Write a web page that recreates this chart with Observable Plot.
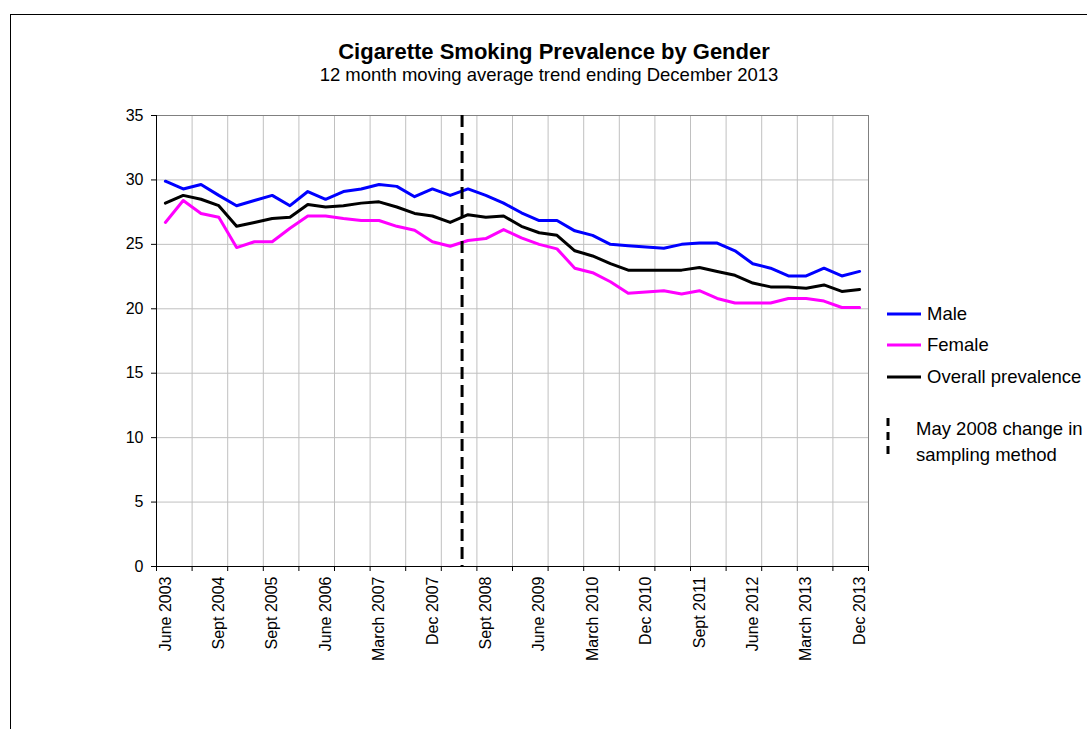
<!DOCTYPE html>
<html><head><meta charset="utf-8">
<script src="https://cdn.jsdelivr.net/npm/d3@7"></script>
<script src="https://cdn.jsdelivr.net/npm/@observablehq/plot@0.6"></script>
<style>
body{margin:0;width:1087px;height:729px;overflow:hidden;background:#fff;font-family:"Liberation Sans",Arial,sans-serif;position:relative;color:#000}
#border{position:absolute;left:10px;top:14px;width:1200px;height:900px;border-left:1px solid #000;border-top:1px solid #000}
#chart{position:absolute;left:0;top:0}
.title{position:absolute;left:0;width:1108px;text-align:center;white-space:nowrap}
#t1{top:39px;font-weight:bold;font-size:22px;line-height:26px}
#t2{top:64px;left:-5px;font-size:18.5px;line-height:22px}
.leg{position:absolute;white-space:nowrap;font-size:18.5px;line-height:20px}
.leg svg{position:absolute;left:0;top:0;overflow:visible}
</style></head>
<body>
<div id="border"></div>
<div id="chart"></div>
<div class="title" id="t1">Cigarette Smoking Prevalence by Gender</div>
<div class="title" id="t2">12 month moving average trend ending December 2013</div>
<div id="legend"></div>
<script>
const categories = [
  "June 2003","Dec 2003","March 2004","Sept 2004","Dec 2004","March 2005","Sept 2005",
  "Dec 2005","March 2006","June 2006","Sept 2006","Dec 2006","March 2007","June 2007",
  "Sept 2007","Dec 2007","March 2008","June 2008","Sept 2008","Dec 2008","March 2009",
  "June 2009","Sept 2009","Dec 2009","March 2010","June 2010","Sept 2010","Dec 2010",
  "March 2011","June 2011","Sept 2011","Dec 2011","March 2012","June 2012","Sept 2012",
  "Dec 2012","March 2013","June 2013","Sept 2013","Dec 2013"
];
const tickLabels = ["June 2003","Sept 2004","Sept 2005","June 2006","March 2007","Dec 2007",
  "Sept 2008","June 2009","March 2010","Dec 2010","Sept 2011","June 2012","March 2013","Dec 2013"];
const male = [29.9,29.3,29.65,28.8,28.0,28.4,28.8,28.0,29.1,28.5,29.1,29.3,29.65,29.5,28.7,29.3,28.8,29.3,28.8,28.2,
  27.45,26.85,26.85,26.05,25.7,25.0,24.9,24.8,24.7,25.0,25.1,25.1,24.5,23.5,23.15,22.55,22.55,23.15,22.55,22.9];
const female = [26.7,28.4,27.4,27.1,24.75,25.2,25.2,26.25,27.2,27.2,27.0,26.85,26.85,26.4,26.1,25.2,24.85,25.3,25.45,26.15,
  25.5,25.0,24.65,23.15,22.8,22.1,21.2,21.3,21.4,21.15,21.4,20.8,20.45,20.45,20.45,20.8,20.8,20.6,20.1,20.1];
const overall = [28.2,28.8,28.5,28.0,26.4,26.7,27.0,27.1,28.1,27.9,28.0,28.2,28.3,27.9,27.4,27.2,26.7,27.3,27.1,27.2,
  26.4,25.9,25.7,24.5,24.1,23.5,23.0,23.0,23.0,23.0,23.2,22.9,22.6,22.0,21.7,21.7,21.6,21.85,21.35,21.5];
const seriesNames = ["Male","Female","Overall prevalence"];
const seriesColors = ["#0000ff","#ff00ff","#000000"];
const yTicks = [0,5,10,15,20,25,30,35];
const samplingChange = {label:"May 2008 change in sampling method", after:"March 2008", fraction:2/3};

const rows = [];
[male, female, overall].forEach((vals, s) => vals.forEach((v, i) => rows.push({series: seriesNames[s], i: i + 0.5, value: v})));
const changeX = categories.indexOf(samplingChange.after) + 0.5 + samplingChange.fraction;
const boundaries = d3.range(0, categories.length + 1, 2);
const labelPos = tickLabels.map(l => categories.indexOf(l) + 0.5);

const chart = Plot.plot({
  width: 1087, height: 729,
  marginLeft: 156, marginRight: 219, marginTop: 115, marginBottom: 163,
  x: {type: "linear", domain: [0, categories.length]},
  y: {domain: [0, 35]},
  color: {domain: seriesNames, range: seriesColors},
  style: {fontFamily: "'Liberation Sans', Arial, sans-serif", fontSize: "16px", color: "#000", background: "transparent"},
  marks: [
    Plot.gridY(yTicks, {stroke: "#c0c0c0", strokeOpacity: 1}),
    Plot.gridX(boundaries, {stroke: "#c0c0c0", strokeOpacity: 1}),
    Plot.frame({stroke: "#808080"}),
    Plot.axisY(yTicks, {tickSize: 5, tickPadding: 8, label: null, fontSize: 16}),
    Plot.axisX(boundaries, {tickSize: 5, tickFormat: () => "", label: null}),
    Plot.axisX(labelPos, {tickSize: 0, tickPadding: 10, tickRotate: -90, label: null, fontSize: 16,
      tickFormat: d => categories[Math.round(d - 0.5)]}),
    Plot.ruleX([0], {stroke: "#000"}),
    Plot.ruleY([0], {stroke: "#000"}),
    Plot.line(rows, {x: "i", y: "value", z: "series", stroke: "series", strokeWidth: 3}),
    Plot.ruleX([changeX], {stroke: "#000", strokeWidth: 3, strokeDasharray: "12,6"})
  ]
});
document.getElementById("chart").appendChild(chart);

// legend
const legend = document.getElementById("legend");
const legTops = [304, 335, 367];
seriesNames.forEach((name, k) => {
  const d = document.createElement("div");
  d.className = "leg";
  d.style.left = "887px"; d.style.top = legTops[k] + "px";
  d.innerHTML = `<svg width="34" height="20"><line x1="0" x2="34" y1="10" y2="10" stroke="${seriesColors[k]}" stroke-width="3"/></svg><span style="margin-left:40px">${name}</span>`;
  legend.appendChild(d);
});
const words = samplingChange.label.split(" ");
const d2 = document.createElement("div");
d2.className = "leg";
d2.style.left = "885px"; d2.style.top = "416px"; d2.style.lineHeight = "26px";
d2.innerHTML = `<svg width="6" height="42"><line x1="3" x2="3" y1="2" y2="42" stroke="#000" stroke-width="3" stroke-dasharray="8,6"/></svg><div style="margin-left:31px">${words.slice(0,4).join(" ")}<br>${words.slice(4).join(" ")}</div>`;
legend.appendChild(d2);
</script>
</body></html>
